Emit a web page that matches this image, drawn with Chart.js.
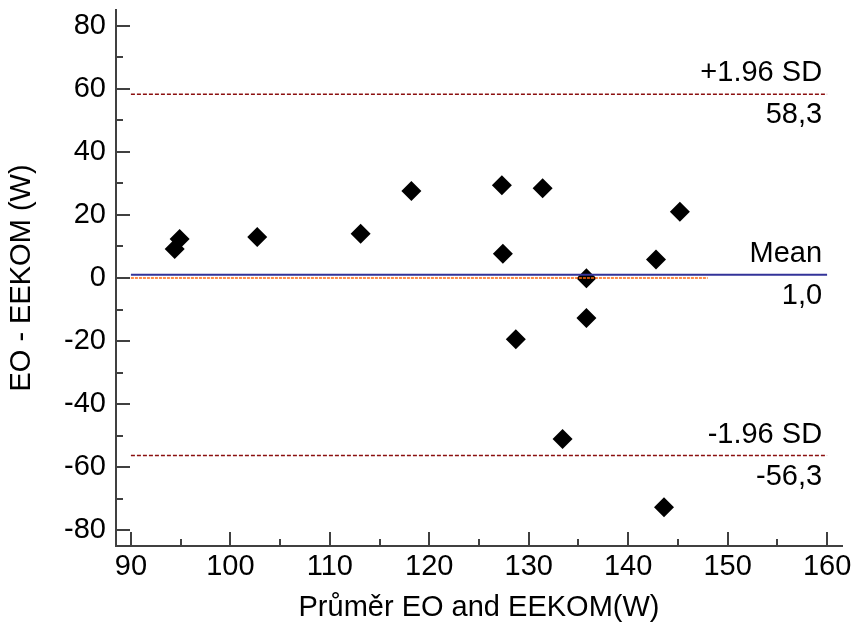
<!DOCTYPE html>
<html>
<head>
<meta charset="utf-8">
<script src="https://cdn.jsdelivr.net/npm/chart.js@4/dist/chart.umd.min.js"></script>
<style>
  body { margin: 0; background: #fff; }
  canvas { display: block; }
</style>
</head>
<body>
<canvas id="bland" width="853" height="629"></canvas>
<script>
'use strict';

// Mean of the two methods (x) and their difference (y)
var means = [94.4, 94.9, 102.7, 113.1, 118.2, 127.3, 127.4, 128.7, 131.4, 133.4, 135.8, 135.8, 142.8, 143.6, 145.2];
var diffs = [9.2, 12.4, 13.0, 14.0, 27.6, 29.4, 7.7, -19.4, 28.5, -51.1, -0.1, -12.7, 5.9, -72.7, 21.0];

var xTicks = [90, 100, 110, 120, 130, 140, 150, 160];
var xMinor = [95, 105, 115, 125, 135, 145, 155];
var yTicks = [-80, -60, -40, -20, 0, 20, 40, 60, 80];
var yMinor = [-70, -50, -30, -10, 10, 30, 50, 70];

var meanDiff = 1.0;
var upperLoA = 58.3;
var lowerLoA = -56.3;
var lineStart = 90, lineEnd = 160, zeroEnd = 148;

var FONT = '"Liberation Sans", Arial, sans-serif';

function hLine(y, x0, x1) {
    return [{x: x0, y: y}, {x: x1, y: y}];
}

function fmt(v) {
    return v.toFixed(1).replace('.', ',');
}

// inward tick marks on both axes + text labels for the limit lines
var decorations = {
    id: 'decorations',
    afterDatasetsDraw: function(chart) {
        var ctx = chart.ctx;
        var xs = chart.scales.x, ys = chart.scales.y;
        var area = chart.chartArea;
        ctx.save();
        ctx.strokeStyle = '#404040';
        ctx.lineWidth = 2;
        ctx.beginPath();
        xTicks.forEach(function(v) {
            var px = Math.round(xs.getPixelForValue(v));
            ctx.moveTo(px, area.bottom); ctx.lineTo(px, area.bottom - 14);
        });
        xMinor.forEach(function(v) {
            var px = Math.round(xs.getPixelForValue(v));
            ctx.moveTo(px, area.bottom); ctx.lineTo(px, area.bottom - 7);
        });
        yTicks.forEach(function(v) {
            var py = Math.round(ys.getPixelForValue(v));
            ctx.moveTo(area.left, py); ctx.lineTo(area.left + 14, py);
        });
        yMinor.forEach(function(v) {
            var py = Math.round(ys.getPixelForValue(v));
            ctx.moveTo(area.left, py); ctx.lineTo(area.left + 7, py);
        });
        ctx.stroke();

        var right = xs.getPixelForValue(lineEnd) - 5;
        ctx.font = '29px ' + FONT;
        ctx.fillStyle = '#000';
        ctx.textAlign = 'right';
        ctx.textBaseline = 'alphabetic';
        [[upperLoA, '+1.96 SD'], [meanDiff, 'Mean'], [lowerLoA, '-1.96 SD']].forEach(function(l) {
            var py = ys.getPixelForValue(l[0]);
            ctx.fillText(l[1], right, py - 13);
            ctx.fillText(fmt(l[0]), right, py + 29);
        });
        ctx.restore();
    }
};

var points = means.map(function(m, i) { return {x: m, y: diffs[i]}; });

new Chart(document.getElementById('bland'), {
    type: 'scatter',
    data: {
        datasets: [
            {
                type: 'line', data: hLine(meanDiff, lineStart, lineEnd),
                borderColor: '#333399', borderWidth: 2, pointRadius: 0
            },
            {
                type: 'line', data: hLine(0, lineStart, zeroEnd),
                borderColor: '#ff6a10', borderWidth: 1.5, borderDash: [3, 1], pointRadius: 0
            },
            {
                type: 'line', data: hLine(upperLoA, lineStart, lineEnd),
                borderColor: '#8b1010', borderWidth: 1.5, borderDash: [4, 2], pointRadius: 0
            },
            {
                type: 'line', data: hLine(lowerLoA, lineStart, lineEnd),
                borderColor: '#8b1010', borderWidth: 1.5, borderDash: [4, 2], pointRadius: 0
            },
            {
                data: points,
                pointStyle: 'rectRot',
                pointRadius: 10,
                pointBorderWidth: 0,
                backgroundColor: '#000',
                borderColor: '#000'
            }
        ]
    },
    options: {
        responsive: false,
        animation: false,
        layout: { padding: { top: 10, right: 11, left: 0, bottom: 0 } },
        plugins: { legend: { display: false }, tooltip: { enabled: false } },
        scales: {
            x: {
                type: 'linear',
                min: 88.5, max: 161.5,
                afterBuildTicks: function(s) { s.ticks = xTicks.map(function(v) { return {value: v}; }); },
                afterFit: function(s) { s.height = 83; s.paddingLeft = 0; s.paddingRight = 0; },
                grid: { display: true, drawOnChartArea: false, drawTicks: false },
                border: { display: true, color: '#404040', width: 2 },
                ticks: { color: '#000', padding: 4, font: { family: FONT, size: 29 }, maxRotation: 0, autoSkip: false },
                title: {
                    display: true, text: 'Průměr EO and EEKOM(W)', color: '#000',
                    font: { family: FONT, size: 29 }, padding: { top: 0, bottom: 4 }
                }
            },
            y: {
                type: 'linear',
                min: -85, max: 85,
                afterBuildTicks: function(s) { s.ticks = yTicks.map(function(v) { return {value: v}; }); },
                afterFit: function(s) { s.width = 116; s.paddingTop = 0; s.paddingBottom = 0; },
                grid: { display: true, drawOnChartArea: false, drawTicks: false },
                border: { display: true, color: '#404040', width: 2 },
                ticks: { color: '#000', padding: 10, font: { family: FONT, size: 29 }, autoSkip: false },
                title: {
                    display: true, text: 'EO - EEKOM (W)', color: '#000',
                    font: { family: FONT, size: 29 }, padding: { top: 5, bottom: 0 }
                }
            }
        }
    },
    plugins: [decorations]
});
</script>
</body>
</html>
